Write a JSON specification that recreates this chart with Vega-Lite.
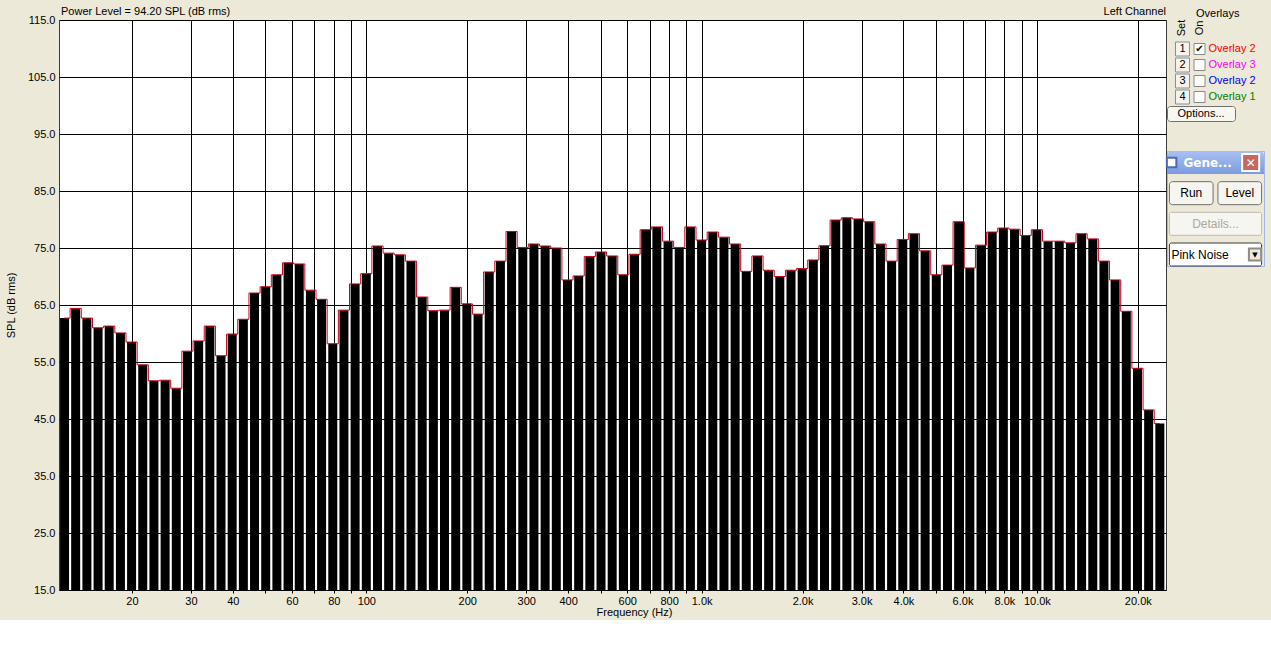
{
  "$schema": "https://vega.github.io/schema/vega-lite/v6.json",
  "background": "#ECE9D8",
  "padding": {"left": 4, "top": 5, "right": 8, "bottom": 2},
  "config": {"font": "Liberation Sans", "text": {"font": "Liberation Sans", "fontSize": 11}},
  "spacing": -8,
  "hconcat": [
    {
      "width": 1107,
      "height": 570,
      "view": {"fill": "white", "stroke": "#3c3c3c"},
      "data": {"values": [
        {"f": 12.59, "spl": 62.7}, {"f": 13.59, "spl": 64.4}, {"f": 14.68, "spl": 62.7}, {"f": 15.85, "spl": 61.0}, {"f": 17.11, "spl": 61.3},
        {"f": 18.48, "spl": 60.1}, {"f": 19.95, "spl": 58.5}, {"f": 21.54, "spl": 54.5}, {"f": 23.26, "spl": 51.7}, {"f": 25.12, "spl": 51.8},
        {"f": 27.12, "spl": 50.4}, {"f": 29.29, "spl": 56.9}, {"f": 31.62, "spl": 58.7}, {"f": 34.15, "spl": 61.3}, {"f": 36.87, "spl": 56.1},
        {"f": 39.81, "spl": 59.9}, {"f": 42.99, "spl": 62.5}, {"f": 46.42, "spl": 67.1}, {"f": 50.12, "spl": 68.2}, {"f": 54.12, "spl": 70.3},
        {"f": 58.43, "spl": 72.4}, {"f": 63.1, "spl": 72.2}, {"f": 68.13, "spl": 67.6}, {"f": 73.56, "spl": 66.0}, {"f": 79.43, "spl": 58.2},
        {"f": 85.77, "spl": 64.1}, {"f": 92.61, "spl": 68.7}, {"f": 100, "spl": 70.5}, {"f": 108.0, "spl": 75.35}, {"f": 116.6, "spl": 74.1},
        {"f": 125.9, "spl": 73.8}, {"f": 135.9, "spl": 72.7}, {"f": 146.8, "spl": 66.4}, {"f": 158.5, "spl": 64.0}, {"f": 171.1, "spl": 64.1},
        {"f": 184.8, "spl": 68.1}, {"f": 199.5, "spl": 65.2}, {"f": 215.4, "spl": 63.4}, {"f": 232.6, "spl": 70.8}, {"f": 251.2, "spl": 72.7},
        {"f": 271.2, "spl": 77.9}, {"f": 292.9, "spl": 75.1}, {"f": 316.2, "spl": 75.7}, {"f": 341.5, "spl": 75.35}, {"f": 368.7, "spl": 75.0},
        {"f": 398.1, "spl": 69.4}, {"f": 429.9, "spl": 70.1}, {"f": 464.2, "spl": 73.5}, {"f": 501.2, "spl": 74.3}, {"f": 541.2, "spl": 73.6},
        {"f": 584.3, "spl": 70.3}, {"f": 631.0, "spl": 73.9}, {"f": 681.3, "spl": 78.2}, {"f": 735.6, "spl": 78.7}, {"f": 794.3, "spl": 76.2},
        {"f": 857.7, "spl": 75.1}, {"f": 926.1, "spl": 78.7}, {"f": 1000, "spl": 76.4}, {"f": 1080, "spl": 77.8}, {"f": 1166, "spl": 76.9},
        {"f": 1259, "spl": 75.7}, {"f": 1359, "spl": 70.9}, {"f": 1468, "spl": 73.6}, {"f": 1585, "spl": 71.1}, {"f": 1711, "spl": 70.0},
        {"f": 1848, "spl": 71.1}, {"f": 1995, "spl": 71.4}, {"f": 2154, "spl": 72.9}, {"f": 2326, "spl": 75.4}, {"f": 2512, "spl": 79.9},
        {"f": 2712, "spl": 80.3}, {"f": 2929, "spl": 80.1}, {"f": 3162, "spl": 79.6}, {"f": 3415, "spl": 75.7}, {"f": 3687, "spl": 72.7},
        {"f": 3981, "spl": 76.5}, {"f": 4299, "spl": 77.5}, {"f": 4642, "spl": 74.5}, {"f": 5012, "spl": 70.3}, {"f": 5412, "spl": 72.0},
        {"f": 5843, "spl": 79.6}, {"f": 6310, "spl": 71.5}, {"f": 6813, "spl": 75.5}, {"f": 7356, "spl": 77.8}, {"f": 7943, "spl": 78.5},
        {"f": 8577, "spl": 78.3}, {"f": 9261, "spl": 77.2}, {"f": 10000, "spl": 78.2}, {"f": 10798, "spl": 76.2}, {"f": 11659, "spl": 76.2},
        {"f": 12589, "spl": 75.9}, {"f": 13594, "spl": 77.5}, {"f": 14678, "spl": 76.6}, {"f": 15849, "spl": 72.7}, {"f": 17113, "spl": 69.4},
        {"f": 18478, "spl": 63.9}, {"f": 19953, "spl": 53.9}, {"f": 21544, "spl": 46.6}, {"f": 23263, "spl": 44.2}
      ]},
      "layer": [
        {
          "mark": {"type": "bar", "color": "black", "width": 9},
          "encoding": {
            "x": {
              "field": "f", "type": "quantitative",
              "scale": {"type": "log", "domain": [12.12, 24270], "nice": false, "padding": 0},
              "axis": {
                "values": [20, 30, 40, 50, 60, 70, 80, 90, 100, 200, 300, 400, 500, 600, 700, 800, 900, 1000, 2000, 3000, 4000, 5000, 6000, 7000, 8000, 9000, 10000, 20000],
                "labelExpr": "indexof([50,70,90,500,700,900,5000,7000,9000], datum.value) >= 0 ? '' : (datum.value >= 1000 ? format(datum.value / 1000, '.1f') + 'k' : format(datum.value, 'd'))",
                "grid": true, "gridColor": "black", "gridOpacity": 1, "gridWidth": 1,
                "domain": false, "tickColor": "black", "tickSize": 3, "labelPadding": 2,
                "labelFont": "Liberation Sans", "labelFontSize": 11, "labelColor": "black", "labelOverlap": false, "labelFlush": false,
                "title": "Frequency (Hz)", "titleFont": "Liberation Sans", "titleFontSize": 11, "titleFontWeight": "normal", "titleColor": "black", "titlePadding": 0, "titleX": 575
              }
            },
            "y": {
              "field": "spl", "type": "quantitative",
              "scale": {"domain": [15, 115], "nice": false, "zero": false, "padding": 0},
              "axis": {
                "values": [15, 25, 35, 45, 55, 65, 75, 85, 95, 105, 115],
                "format": ".1f",
                "grid": true, "gridColor": "black", "gridOpacity": 1, "gridWidth": 1,
                "domain": false, "ticks": false, "labelPadding": 4,
                "labelFont": "Liberation Sans", "labelFontSize": 11, "labelColor": "black",
                "title": "SPL (dB rms)", "titleFont": "Liberation Sans", "titleFontSize": 11, "titleFontWeight": "normal", "titleColor": "black", "titleX": -43
              }
            },
            "y2": {"datum": 15}
          }
        },
        {
          "mark": {"type": "line", "interpolate": "step", "color": "#C8001E", "strokeWidth": 1},
          "encoding": {
            "x": {"field": "f", "type": "quantitative"},
            "y": {"field": "spl", "type": "quantitative"}
          }
        },
        {
          "data": {"values": [{"t": "Power Level = 94.20 SPL (dB rms)"}]},
          "mark": {"type": "text", "align": "left", "baseline": "bottom", "dy": -3, "dx": 2, "fontSize": 11, "color": "black"},
          "encoding": {
            "text": {"field": "t"},
            "x": {"datum": 12.12, "type": "quantitative"},
            "y": {"datum": 115, "type": "quantitative"}
          }
        },
        {
          "data": {"values": [{"t": "Left Channel"}]},
          "mark": {"type": "text", "align": "right", "baseline": "bottom", "dy": -3, "fontSize": 11, "color": "black"},
          "encoding": {
            "text": {"field": "t"},
            "x": {"datum": 24270, "type": "quantitative"},
            "y": {"datum": 115, "type": "quantitative"}
          }
        }
      ]
    },
    {
      "title": {"text": "Overlays", "anchor": "start", "frame": "group", "dx": 29, "offset": 1, "fontSize": 11, "fontWeight": "normal", "color": "black", "font": "Liberation Sans"},
      "spacing": 27,
      "vconcat": [
        {
          "spacing": -1,
          "vconcat": [
            {
              "width": 65,
              "height": 85,
              "view": {"fill": "#ECE9D8", "stroke": null},
              "data": {"values": [
                {"row": "1", "set": "1", "label": "Overlay 2", "on": true, "color": "#FF0000"},
                {"row": "2", "set": "2", "label": "Overlay 3", "on": false, "color": "#FF00FF"},
                {"row": "3", "set": "3", "label": "Overlay 2", "on": false, "color": "#0000FF"},
                {"row": "4", "set": "4", "label": "Overlay 1", "on": false, "color": "#008000"}
              ]},
              "layer": [
                {
                  "data": {"values": [{"row": "h", "col": "set", "text": "Set"}, {"row": "h", "col": "on", "text": "On"}]},
                  "mark": {"type": "text", "fontSize": 11, "color": "black", "angle": 270, "dx": 5},
                  "encoding": {
                    "x": {"field": "col", "type": "nominal", "scale": {"type": "point", "domain": ["set", "on", "lab"], "padding": 0.91}, "axis": null},
                    "y": {"field": "row", "type": "nominal", "scale": {"type": "band", "domain": ["h", "1", "2", "3", "4"], "paddingInner": 0, "paddingOuter": 0.15625, "align": 1}, "axis": null},
                    "text": {"field": "text"}
                  }
                },
                {
                  "mark": {"type": "square", "size": 196, "filled": true, "fill": "#F4F3EE", "stroke": "#8C8C8C", "strokeWidth": 1, "opacity": 1},
                  "encoding": {
                    "x": {"datum": "set", "type": "nominal"},
                    "y": {"field": "row", "type": "nominal"}
                  }
                },
                {
                  "mark": {"type": "text", "fontSize": 11, "color": "black"},
                  "encoding": {
                    "x": {"datum": "set", "type": "nominal"},
                    "y": {"field": "row", "type": "nominal"},
                    "text": {"field": "set"}
                  }
                },
                {
                  "mark": {"type": "square", "size": 121, "filled": true, "fill": "white", "stroke": "#8A8A8A", "strokeWidth": 1, "opacity": 1},
                  "encoding": {
                    "x": {"datum": "on", "type": "nominal"},
                    "y": {"field": "row", "type": "nominal"}
                  }
                },
                {
                  "transform": [{"filter": "datum.on"}],
                  "mark": {"type": "text", "fontSize": 10, "color": "black", "font": "DejaVu Sans"},
                  "encoding": {
                    "x": {"datum": "on", "type": "nominal"},
                    "y": {"field": "row", "type": "nominal"},
                    "text": {"value": "✔"}
                  }
                },
                {
                  "mark": {"type": "text", "fontSize": 11, "align": "left", "dx": -8},
                  "encoding": {
                    "x": {"datum": "lab", "type": "nominal"},
                    "y": {"field": "row", "type": "nominal"},
                    "text": {"field": "label"},
                    "color": {"field": "color", "type": "nominal", "scale": null}
                  }
                }
              ]
            },
            {
              "width": 68,
              "height": 15,
              "view": {"fill": "#F7F6F1", "stroke": "#707070", "cornerRadius": 3},
              "data": {"values": [{"t": "Options..."}]},
              "mark": {"type": "text", "fontSize": 11, "color": "black"},
              "encoding": {"text": {"field": "t"}}
            }
          ]
        },
        {
          "width": 97,
          "height": 115,
          "view": {"fill": "#ECE9D8", "stroke": "#9FB6EC"},
          "data": {"values": [
            {"row": "title", "col": "L", "text": "Gene...", "kind": "title"},
            {"row": "r1", "col": "L", "text": "Run", "kind": "button"},
            {"row": "r1", "col": "R", "text": "Level", "kind": "button"},
            {"row": "r2", "col": "L", "text": "Details...", "kind": "wide"},
            {"row": "r3", "col": "L", "text": "Pink Noise", "kind": "combo"}
          ]},
          "layer": [
            {
              "transform": [{"filter": "datum.kind == 'title'"}],
              "mark": {"type": "rect", "cornerRadiusTopLeft": 5, "cornerRadiusTopRight": 5,
                "color": {"gradient": "linear", "x1": 0, "y1": 0, "x2": 0, "y2": 1, "stops": [{"offset": 0, "color": "#A9C0F2"}, {"offset": 1, "color": "#7B9BE0"}]}},
              "encoding": {
                "y": {"field": "row", "type": "nominal", "scale": {"domain": ["title", "r1", "r2", "r3"], "paddingInner": 0.25, "paddingOuter": 0}, "axis": null}
              }
            },
            {
              "transform": [{"filter": "datum.kind == 'title'"}],
              "mark": {"type": "square", "size": 90, "filled": true, "fill": "white", "stroke": "#4A6AC0", "opacity": 1},
              "encoding": {
                "x": {"datum": "L", "type": "nominal", "scale": {"type": "band", "domain": ["L", "R"], "paddingInner": 0.1, "paddingOuter": 0.05}, "axis": null, "bandPosition": 0.05},
                "y": {"field": "row", "type": "nominal"}
              }
            },
            {
              "transform": [{"filter": "datum.kind == 'title'"}],
              "mark": {"type": "text", "align": "left", "fontWeight": "bold", "fontSize": 12, "color": "white", "font": "DejaVu Sans", "dx": 14},
              "encoding": {
                "x": {"datum": "L", "type": "nominal", "bandPosition": 0},
                "y": {"field": "row", "type": "nominal"},
                "text": {"field": "text"}
              }
            },
            {
              "transform": [{"filter": "datum.kind == 'title'"}],
              "mark": {"type": "square", "size": 289, "filled": true, "fill": "#C8675F", "stroke": "white", "opacity": 1},
              "encoding": {
                "x": {"datum": "R", "type": "nominal", "bandPosition": 0.75},
                "y": {"field": "row", "type": "nominal"}
              }
            },
            {
              "transform": [{"filter": "datum.kind == 'title'"}],
              "mark": {"type": "text", "fontSize": 12, "fontWeight": "bold", "color": "white", "font": "DejaVu Sans"},
              "encoding": {
                "x": {"datum": "R", "type": "nominal", "bandPosition": 0.75},
                "y": {"field": "row", "type": "nominal"},
                "text": {"value": "✕"}
              }
            },
            {
              "transform": [{"filter": "datum.kind == 'button'"}],
              "mark": {"type": "rect", "fill": "#F6F5F0", "stroke": "#6F6F6F", "cornerRadius": 3},
              "encoding": {
                "x": {"field": "col", "type": "nominal"},
                "y": {"field": "row", "type": "nominal"}
              }
            },
            {
              "transform": [{"filter": "datum.kind == 'button'"}],
              "mark": {"type": "text", "fontSize": 12, "color": "black"},
              "encoding": {
                "x": {"field": "col", "type": "nominal"},
                "y": {"field": "row", "type": "nominal"},
                "text": {"field": "text"}
              }
            },
            {
              "transform": [{"filter": "datum.kind == 'wide' || datum.kind == 'combo'"}],
              "mark": {"type": "rect", "cornerRadius": 2},
              "encoding": {
                "x": {"datum": "L", "type": "nominal", "bandPosition": 0},
                "x2": {"datum": "R", "bandPosition": 1},
                "y": {"field": "row", "type": "nominal"},
                "fill": {"condition": {"test": "datum.kind == 'wide'", "value": "#F6F5F0"}, "value": "white"},
                "stroke": {"condition": {"test": "datum.kind == 'wide'", "value": "#BDBAAE"}, "value": "#3C3C3C"}
              }
            },
            {
              "transform": [{"filter": "datum.kind == 'wide'"}],
              "mark": {"type": "text", "fontSize": 12, "color": "#ACA899"},
              "encoding": {
                "y": {"field": "row", "type": "nominal"},
                "text": {"field": "text"}
              }
            },
            {
              "transform": [{"filter": "datum.kind == 'combo'"}],
              "mark": {"type": "text", "fontSize": 12, "color": "black", "align": "left", "dx": 2},
              "encoding": {
                "x": {"datum": "L", "type": "nominal", "bandPosition": 0},
                "y": {"field": "row", "type": "nominal"},
                "text": {"field": "text"}
              }
            },
            {
              "transform": [{"filter": "datum.kind == 'combo'"}],
              "mark": {"type": "square", "size": 150, "filled": true, "fill": "#ECE9D8", "stroke": "#8C8C8C", "opacity": 1},
              "encoding": {
                "x": {"datum": "R", "type": "nominal", "bandPosition": 0.85},
                "y": {"field": "row", "type": "nominal"}
              }
            },
            {
              "transform": [{"filter": "datum.kind == 'combo'"}],
              "mark": {"type": "text", "fontSize": 7, "color": "black", "font": "DejaVu Sans"},
              "encoding": {
                "x": {"datum": "R", "type": "nominal", "bandPosition": 0.85},
                "y": {"field": "row", "type": "nominal"},
                "text": {"value": "▼"}
              }
            }
          ]
        }
      ]
    }
  ]
}
